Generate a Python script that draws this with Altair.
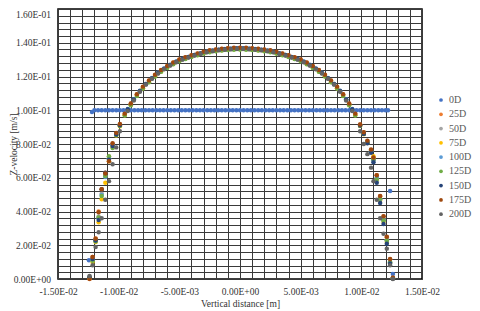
import altair as alt
import pandas as pd

# ---------------- data ----------------
series_names = ["0D", "25D", "50D", "75D", "100D", "125D", "150D", "175D", "200D"]
series_colors = ["#4472C4", "#ED7D31", "#A5A5A5", "#FFC000", "#5B9BD5",
                 "#70AD47", "#264478", "#9E480E", "#636363"]

# 0D: flat inlet profile
x_0d = [-0.01245, -0.0122,
        -0.0120, -0.0117, -0.0114, -0.0111, -0.0108, -0.0105, -0.0102, -0.0099, -0.0096, -0.0093,
        -0.0090, -0.0087, -0.0084, -0.0081, -0.0078, -0.0075, -0.0072, -0.0069, -0.0066, -0.0063,
        -0.0060, -0.0057, -0.0054, -0.0051, -0.0048, -0.0045, -0.0042, -0.0039, -0.0036, -0.0033,
        -0.0030, -0.0027, -0.0024, -0.0021, -0.0018, -0.0015, -0.0012, -0.0009, -0.0006, -0.0003,
        0.0000,
        0.0003, 0.0006, 0.0009, 0.0012, 0.0015, 0.0018, 0.0021, 0.0024, 0.0027, 0.0030,
        0.0033, 0.0036, 0.0039, 0.0042, 0.0045, 0.0048, 0.0051, 0.0054, 0.0057, 0.0060,
        0.0063, 0.0066, 0.0069, 0.0072, 0.0075, 0.0078, 0.0081, 0.0084, 0.0087, 0.0090,
        0.0093, 0.0096, 0.0099, 0.0102, 0.0105, 0.0108, 0.0111, 0.0114, 0.0117, 0.0120,
        0.0122, 0.01237, 0.0126]
y_0d = [0.0111, 0.0990,
        0.1, 0.1, 0.1, 0.1, 0.1, 0.1, 0.1, 0.1, 0.1,
        0.1, 0.1, 0.1, 0.1, 0.1, 0.1, 0.1, 0.1, 0.1,
        0.1, 0.1, 0.1, 0.1, 0.1, 0.1, 0.1, 0.1, 0.1,
        0.1, 0.1, 0.1, 0.1, 0.1, 0.1, 0.1, 0.1, 0.1,
        0.1, 0.1, 0.1, 0.1, 0.1, 0.1, 0.1, 0.1, 0.1,
        0.1, 0.1, 0.1, 0.1, 0.1, 0.1, 0.1, 0.1, 0.1,
        0.1, 0.1, 0.1, 0.1, 0.1, 0.1, 0.1, 0.1, 0.1,
        0.1, 0.1, 0.1, 0.1, 0.1, 0.1, 0.1, 0.1, 0.1,
        0.1, 0.1, 0.1, 0.1, 0.1, 0.1, 0.1, 0.1, 0.1,
        0.1, 0.0522, 0.0029]

# mesh positions of the developed profiles
x_wall_left = [-0.0124, -0.01215, -0.0119, -0.01165, -0.0114, -0.0111, -0.0108, -0.0105, -0.0102, -0.0099]
x_core_a = [-0.0095, -0.009, -0.0085, -0.008, -0.0075, -0.007, -0.0065, -0.006, -0.0055, -0.005,
            -0.0045, -0.004, -0.0035, -0.003, -0.0025, -0.002, -0.0015, -0.001, -0.0005, 0.0,
            0.0005, 0.001, 0.0015, 0.002, 0.0025, 0.003, 0.0035, 0.004, 0.0045, 0.005,
            0.0055, 0.006, 0.0065, 0.007, 0.0075, 0.008, 0.0085, 0.009, 0.0095]
x_core_b = [-0.00925, -0.00875, -0.00825, -0.00775, -0.00725, -0.00675, -0.00625, -0.00575, -0.00525, -0.00475,
            -0.00425, -0.00375, -0.00325, -0.00275, -0.00225, -0.00175, -0.00125, -0.00075, -0.00025,
            0.00025, 0.00075, 0.00125, 0.00175, 0.00225, 0.00275, 0.00325, 0.00375, 0.00425,
            0.00475, 0.00525, 0.00575, 0.00625, 0.00675, 0.00725, 0.00775, 0.00825, 0.00875, 0.00925]
x_wall_right = [0.0099, 0.0102, 0.0105, 0.0108, 0.011, 0.01127, 0.01155, 0.01183, 0.0121, 0.01237, 0.0126]

y_25d = [0.0000, 0.0130, 0.0240, 0.0400, 0.0532, 0.0630, 0.0725, 0.0800, 0.0862, 0.0915,
         0.0978, 0.1038, 0.1093, 0.1138, 0.1175, 0.1209, 0.1237, 0.1260, 0.1281, 0.1299,
         0.1312, 0.1324, 0.1335, 0.1345, 0.1353, 0.1358, 0.1363, 0.1366, 0.1368, 0.1369,
         0.1368, 0.1366, 0.1363, 0.1358, 0.1353, 0.1345, 0.1335, 0.1324, 0.1312, 0.1299,
         0.1281, 0.1260, 0.1237, 0.1209, 0.1175, 0.1138, 0.1093, 0.1038, 0.0978,
         0.0915, 0.0868, 0.0818, 0.0765, 0.0715, 0.0615, 0.0490, 0.0370, 0.0248, 0.0117, 0.0008]
y_50d = [0.0012, 0.0120, 0.0232, 0.0370, 0.0505, 0.0612, 0.0712, 0.0792, 0.0858, 0.0912,
         0.1004, 0.1062, 0.1112, 0.1153, 0.1188, 0.1219, 0.1244, 0.1266, 0.1286, 0.1301,
         0.1313, 0.1325, 0.1335, 0.1344, 0.1351, 0.1356, 0.1360, 0.1362, 0.1364,
         0.1364, 0.1362, 0.1360, 0.1356, 0.1351, 0.1344, 0.1335, 0.1325, 0.1313,
         0.1301, 0.1286, 0.1266, 0.1244, 0.1219, 0.1188, 0.1153, 0.1112, 0.1062, 0.1004,
         0.0912, 0.0864, 0.0812, 0.0758, 0.0703, 0.0598, 0.0474, 0.0352, 0.0232, 0.0102, 0.0006]
y_75d = [0.0008, 0.0101, 0.0219, 0.0336, 0.0473, 0.0570, 0.0698, 0.0782, 0.0850, 0.0905,
         0.0971, 0.1031, 0.1086, 0.1131, 0.1168, 0.1202, 0.1230, 0.1253, 0.1274, 0.1292,
         0.1305, 0.1317, 0.1328, 0.1338, 0.1346, 0.1351, 0.1356, 0.1359, 0.1361, 0.1362,
         0.1361, 0.1359, 0.1356, 0.1351, 0.1346, 0.1338, 0.1328, 0.1317, 0.1305, 0.1292,
         0.1274, 0.1253, 0.1230, 0.1202, 0.1168, 0.1131, 0.1086, 0.1031, 0.0971,
         0.0906, 0.0858, 0.0806, 0.0760, 0.0727, 0.0590, 0.0465, 0.0340, 0.0220, 0.0095, 0.0004]
y_100d = [0.0011, 0.0112, 0.0228, 0.0362, 0.0498, 0.0605, 0.0715, 0.0795, 0.0860, 0.0913,
          0.1007, 0.1065, 0.1115, 0.1156, 0.1191, 0.1222, 0.1247, 0.1269, 0.1289, 0.1304,
          0.1316, 0.1328, 0.1338, 0.1347, 0.1354, 0.1359, 0.1363, 0.1365, 0.1367,
          0.1367, 0.1365, 0.1363, 0.1359, 0.1354, 0.1347, 0.1338, 0.1328, 0.1316,
          0.1304, 0.1289, 0.1269, 0.1247, 0.1222, 0.1191, 0.1156, 0.1115, 0.1065, 0.1007,
          0.0913, 0.0866, 0.0813, 0.0757, 0.0705, 0.0600, 0.0472, 0.0348, 0.0228, 0.0098, 0.0005]
y_125d = [0.0009, 0.0108, 0.0222, 0.0365, 0.0492, 0.0610, 0.0727, 0.0776, 0.0852, 0.0908,
          0.0969, 0.1029, 0.1084, 0.1129, 0.1166, 0.1200, 0.1228, 0.1251, 0.1272, 0.1290,
          0.1303, 0.1315, 0.1326, 0.1336, 0.1344, 0.1349, 0.1354, 0.1357, 0.1359, 0.1360,
          0.1359, 0.1357, 0.1354, 0.1349, 0.1344, 0.1336, 0.1326, 0.1315, 0.1303, 0.1290,
          0.1272, 0.1251, 0.1228, 0.1200, 0.1166, 0.1129, 0.1084, 0.1029, 0.0969,
          0.0908, 0.0860, 0.0808, 0.0752, 0.0708, 0.0590, 0.0475, 0.0347, 0.0228, 0.0100, 0.0004]
y_150d = [0.0010, 0.0118, 0.0228, 0.0350, 0.0530, 0.0629, 0.0707, 0.0788, 0.0856, 0.0911,
          0.1006, 0.1064, 0.1114, 0.1155, 0.1190, 0.1221, 0.1246, 0.1268, 0.1288, 0.1303,
          0.1315, 0.1327, 0.1337, 0.1346, 0.1353, 0.1358, 0.1362, 0.1364, 0.1366,
          0.1366, 0.1364, 0.1362, 0.1358, 0.1353, 0.1346, 0.1337, 0.1327, 0.1315,
          0.1303, 0.1288, 0.1268, 0.1246, 0.1221, 0.1190, 0.1155, 0.1114, 0.1064, 0.1006,
          0.0910, 0.0860, 0.0805, 0.0748, 0.0692, 0.0570, 0.0450, 0.0326, 0.0209, 0.0092, 0.0003]
y_175d = [0.0001, 0.0131, 0.0238, 0.0395, 0.0532, 0.0625, 0.0698, 0.0805, 0.0866, 0.0918,
          0.0980, 0.1040, 0.1095, 0.1140, 0.1177, 0.1211, 0.1239, 0.1262, 0.1283, 0.1301,
          0.1314, 0.1326, 0.1337, 0.1347, 0.1355, 0.1360, 0.1365, 0.1368, 0.1370, 0.1371,
          0.1370, 0.1368, 0.1365, 0.1360, 0.1355, 0.1347, 0.1337, 0.1326, 0.1314, 0.1301,
          0.1283, 0.1262, 0.1239, 0.1211, 0.1177, 0.1140, 0.1095, 0.1040, 0.0980,
          0.0916, 0.0870, 0.0820, 0.0768, 0.0720, 0.0615, 0.0492, 0.0372, 0.0250, 0.0118, 0.0007]
y_200d = [0.0018, 0.0082, 0.0189, 0.0277, 0.0360, 0.0470, 0.0580, 0.0680, 0.0780, 0.0875,
          0.0996, 0.1058, 0.1110, 0.1152, 0.1187, 0.1218, 0.1243, 0.1265, 0.1285, 0.1300,
          0.1312, 0.1324, 0.1334, 0.1343, 0.1350, 0.1355, 0.1359, 0.1361, 0.1363,
          0.1363, 0.1361, 0.1359, 0.1355, 0.1350, 0.1343, 0.1334, 0.1324, 0.1312,
          0.1300, 0.1285, 0.1265, 0.1243, 0.1218, 0.1187, 0.1152, 0.1110, 0.1058, 0.0996,
          0.0875, 0.0800, 0.0740, 0.0660, 0.0580, 0.0470, 0.0360, 0.0268, 0.0180, 0.0082, 0.0000]

x_ticks_major = [-0.015, -0.01, -0.005, 0.0, 0.005, 0.01, 0.015]
y_ticks_major = [0.0, 0.02, 0.04, 0.06, 0.08, 0.10, 0.12, 0.14, 0.16]

# ---------------- assemble table ----------------
x_a = x_wall_left + x_core_a + x_wall_right
x_b = x_wall_left + x_core_b + x_wall_right
series_data = [
    ("0D", x_0d, y_0d), ("25D", x_a, y_25d), ("50D", x_b, y_50d),
    ("75D", x_a, y_75d), ("100D", x_b, y_100d), ("125D", x_a, y_125d),
    ("150D", x_b, y_150d), ("175D", x_a, y_175d), ("200D", x_b, y_200d),
]
rows = []
for name, xs, ys in series_data:
    for xv, yv in zip(xs, ys, strict=True):
        rows.append({"series": name, "x": xv, "y": yv})
df = pd.DataFrame(rows)

# grid positions (minor divisions of the major ticks)
x_grid = [round(-0.015 + i * 0.001, 4) for i in range(31)]
y_grid = [round(i * 0.004, 4) for i in range(41)]

FONT = "Liberation Serif"
TXT = "#333333"
GRID = "#3a3a3a"

def sci(step):
    return (f"abs(datum.value/{step} - round(datum.value/{step})) < 1e-6 ? "
            "((datum.value < -1e-12 ? '-' : '') + "
            "replace(replace(format(abs(datum.value), '.2e'), 'e-', 'E-0'), 'e+', 'E+0')) : ''")

x_axis = alt.Axis(values=x_grid, labelExpr=sci(0.005), grid=True, gridColor=GRID,
                  gridWidth=1, ticks=False, tickSize=0, domain=False,
                  labelFont=FONT, labelFontSize=9.5, labelColor=TXT, labelPadding=7.5,
                  labelOverlap=False, labelFlush=False,
                  title="Vertical distance [m]", titleFont=FONT, titleFontSize=9.5,
                  titleFontWeight="normal", titleColor=TXT, titleY=24, titleBaseline="middle")
y_axis = alt.Axis(values=y_grid, labelExpr=sci(0.02), grid=True, gridColor=GRID,
                  gridWidth=1, ticks=False, tickSize=0, domain=False,
                  labelFont=FONT, labelFontSize=9.5, labelColor=TXT, labelPadding=7.5,
                  labelOverlap=False, labelFlush=False,
                  labelBaseline={"condition": {"test": "datum.value > 0.159", "value": "top"},
                                 "value": "middle"},
                  title="Z-velocity [m/s]", titleFont=FONT, titleFontSize=9.5,
                  titleFontWeight="normal", titleColor=TXT, titleX=-45, titleBaseline="middle")

chart = alt.Chart(df).mark_circle(size=20, opacity=1).encode(
    x=alt.X("x:Q", scale=alt.Scale(domain=[-0.015, 0.015], nice=False, zero=False), axis=x_axis),
    y=alt.Y("y:Q", scale=alt.Scale(domain=[0, 0.16], nice=False, zero=False), axis=y_axis),
    color=alt.Color("series:N",
                    scale=alt.Scale(domain=series_names, range=series_colors),
                    legend=alt.Legend(orient="none", legendX=378, legendY=86, title=None,
                                      labelFont=FONT, labelFontSize=10, labelColor="#595959",
                                      symbolType="circle", symbolSize=14, rowPadding=4.27,
                                      labelOffset=3, padding=0, symbolStrokeWidth=0)),
).properties(
    width=364, height=270,
    autosize=alt.AutoSizeParams(type="none"),
    padding={"left": 50, "top": 1, "right": 50, "bottom": 32},
    background="white",
).configure_view(stroke="#000000", strokeWidth=1.5)

chart.save("out.html", embed_options={"renderer": "svg", "actions": False})
